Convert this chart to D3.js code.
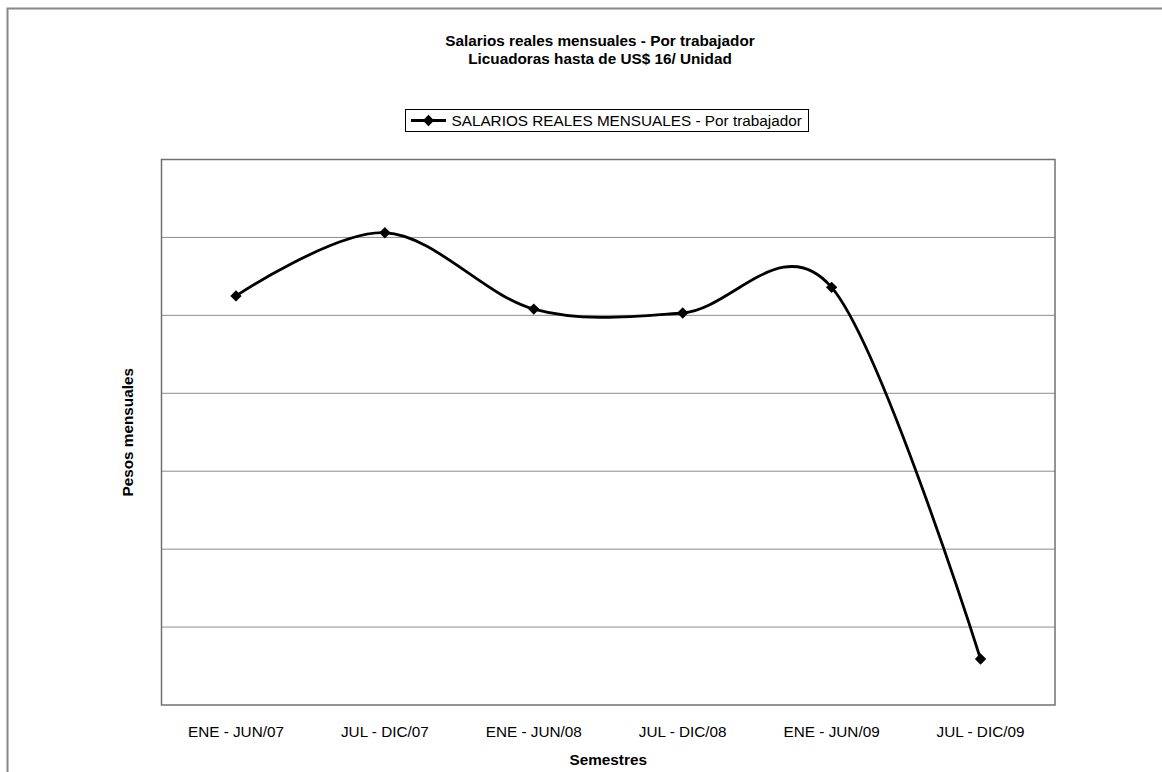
<!DOCTYPE html>
<html>
<head>
<meta charset="utf-8">
<script src="https://cdn.jsdelivr.net/npm/d3@7"></script>
<style>
  html, body { margin: 0; padding: 0; background: #fff; }
  svg { display: block; font-family: "Liberation Sans", Arial, sans-serif; }
</style>
</head>
<body>
<svg id="chart" width="1162" height="772"></svg>
<script>
const categories = ["ENE - JUN/07", "JUL - DIC/07", "ENE - JUN/08", "JUL - DIC/08", "ENE - JUN/09", "JUL - DIC/09"];
const salarios = [5.25, 6.06, 5.08, 5.03, 5.36, 0.59];
const gridValues = [0, 1, 2, 3, 4, 5, 6, 7];
const titleLines = ["Salarios reales mensuales - Por trabajador", "Licuadoras hasta de US$ 16/ Unidad"];
const seriesName = "SALARIOS REALES MENSUALES - Por trabajador";
const xTitle = "Semestres";
const yTitle = "Pesos mensuales";

const FS = 15.3;
const svg = d3.select("#chart");
const plot = { left: 161.5, top: 159.5, right: 1055, bottom: 705 };

// outer chart border
svg.append("path")
  .attr("d", `M7.5,772 V8.5 H1162`)
  .attr("fill", "none").attr("stroke", "#888").attr("stroke-width", 2);

const x = d3.scaleBand().domain(categories).range([plot.left, plot.right]);
const y = d3.scaleLinear().domain([0, 7]).range([plot.bottom, plot.top]);

// gridlines
svg.append("g").selectAll("line").data(gridValues.slice(1, -1)).join("line")
  .attr("x1", plot.left).attr("x2", plot.right)
  .attr("y1", d => y(d)).attr("y2", d => y(d))
  .attr("stroke", "#8c8c8c").attr("stroke-width", 1);

// plot border
svg.append("rect")
  .attr("x", plot.left).attr("y", plot.top)
  .attr("width", plot.right - plot.left).attr("height", plot.bottom - plot.top)
  .attr("fill", "none").attr("stroke", "#707070").attr("stroke-width", 1.5);

// x axis labels
const xAxis = d3.axisBottom(x).tickSize(0).tickPadding(0);
const gx = svg.append("g").attr("transform", `translate(0,${plot.bottom})`).call(xAxis);
gx.select(".domain").remove();
gx.selectAll("text")
  .attr("y", 31.5).attr("dy", null)
  .attr("font-family", "Liberation Sans, Arial, sans-serif")
  .attr("font-size", FS).attr("fill", "#000");

// line
const pts = categories.map((c, i) => [x(c) + x.bandwidth() / 2, y(salarios[i])]);
const line = d3.line().curve(d3.curveCardinal.tension(0));
svg.append("path").attr("d", line(pts))
  .attr("fill", "none").attr("stroke", "#000").attr("stroke-width", 2.8);

// markers
svg.append("g").selectAll("path").data(pts).join("path")
  .attr("d", d3.symbol().type(d3.symbolSquare).size(64))
  .attr("transform", d => `translate(${d[0]},${d[1]}) rotate(45)`)
  .attr("fill", "#000");

// titles
svg.append("g").selectAll("text").data(titleLines).join("text")
  .attr("x", 600).attr("y", (d, i) => 45.5 + i * 18)
  .attr("text-anchor", "middle").attr("font-size", FS).attr("font-weight", "bold")
  .text(d => d);

// legend
const lg = svg.append("g");
lg.append("rect").attr("x", 405.5).attr("y", 109.5).attr("width", 403).attr("height", 22)
  .attr("fill", "#fff").attr("stroke", "#000").attr("stroke-width", 1);
lg.append("line").attr("x1", 411).attr("x2", 446).attr("y1", 120.5).attr("y2", 120.5)
  .attr("stroke", "#000").attr("stroke-width", 2.8);
lg.append("path").attr("d", d3.symbol().type(d3.symbolSquare).size(64))
  .attr("transform", "translate(428.5,120.5) rotate(45)").attr("fill", "#000");
lg.append("text").attr("x", 451.5).attr("y", 126).attr("font-size", FS).text(seriesName);

// axis titles
svg.append("text").attr("x", (plot.left + plot.right) / 2).attr("y", 764.5)
  .attr("text-anchor", "middle").attr("font-size", FS).attr("font-weight", "bold").text(xTitle);
svg.append("text")
  .attr("transform", `translate(132.5,${(plot.top + plot.bottom) / 2}) rotate(-90)`)
  .attr("text-anchor", "middle").attr("font-size", FS).attr("font-weight", "bold").text(yTitle);
</script>
</body>
</html>
